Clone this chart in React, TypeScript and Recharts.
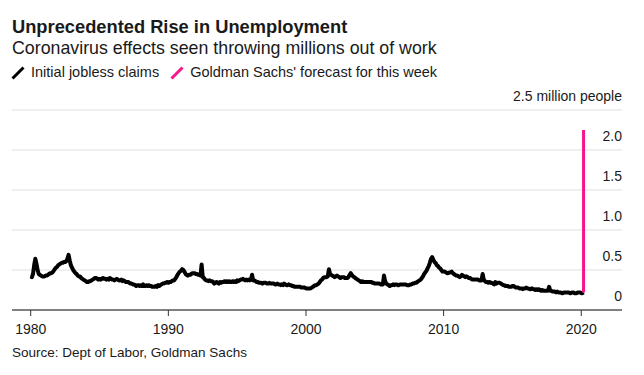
import { CartesianGrid, Line, LineChart, XAxis, YAxis } from "recharts";

// Initial jobless claims, monthly averages in millions of people, Jan..Dec per row
const claims1980s = [
  0.42, 0.41, 0.45, 0.56, 0.64, 0.58, 0.5, 0.45, 0.44, 0.43, 0.42, 0.42,
  0.42, 0.43, 0.43, 0.44, 0.45, 0.46, 0.46, 0.47, 0.49, 0.51, 0.53, 0.54,
  0.56, 0.57, 0.58, 0.59, 0.59, 0.6, 0.6, 0.61, 0.64, 0.69, 0.62, 0.56,
  0.53, 0.5, 0.48, 0.46, 0.45, 0.43, 0.42, 0.42, 0.4, 0.39, 0.38, 0.37,
  0.36, 0.35, 0.35, 0.36, 0.36, 0.37, 0.38, 0.39, 0.4, 0.4, 0.39, 0.38,
  0.39, 0.38, 0.39, 0.4, 0.39, 0.39, 0.38, 0.39, 0.38, 0.4, 0.39, 0.38,
  0.38, 0.37, 0.38, 0.39, 0.38, 0.37, 0.37, 0.38, 0.36, 0.37, 0.36, 0.35,
  0.35, 0.35, 0.34, 0.33, 0.33, 0.32, 0.32, 0.31, 0.3, 0.31, 0.31, 0.3,
  0.31, 0.3, 0.32, 0.3, 0.3, 0.31, 0.3, 0.31, 0.3, 0.3, 0.29, 0.29,
  0.29, 0.3, 0.29, 0.31, 0.3, 0.31, 0.32, 0.33, 0.33, 0.34, 0.34, 0.35,
];

const claims1990s = [
  0.34, 0.35, 0.35, 0.36, 0.37, 0.37, 0.39, 0.41, 0.44, 0.46, 0.48, 0.49,
  0.51, 0.5, 0.48, 0.45, 0.44, 0.43, 0.44, 0.44, 0.45, 0.46, 0.46, 0.46,
  0.45, 0.45, 0.44, 0.44, 0.43, 0.57, 0.41, 0.4, 0.38, 0.37, 0.37, 0.36,
  0.37, 0.36, 0.36, 0.35, 0.33, 0.34, 0.35, 0.34, 0.33, 0.35, 0.34, 0.35,
  0.35, 0.36, 0.35, 0.36, 0.35, 0.36, 0.35, 0.35, 0.36, 0.35, 0.36, 0.35,
  0.37, 0.36, 0.37, 0.38, 0.38, 0.39, 0.38, 0.37, 0.38, 0.37, 0.38, 0.37,
  0.38, 0.44, 0.37, 0.37, 0.36, 0.35, 0.35, 0.34, 0.34, 0.34, 0.33, 0.34,
  0.34, 0.34, 0.33, 0.33, 0.34, 0.33, 0.33, 0.33, 0.33, 0.32, 0.32, 0.33,
  0.32, 0.32, 0.31, 0.32, 0.31, 0.33, 0.32, 0.31, 0.31, 0.32, 0.31, 0.31,
  0.3, 0.3, 0.29, 0.29, 0.29, 0.29, 0.29, 0.29, 0.28, 0.28, 0.28, 0.28,
];

const claims2000s = [
  0.27, 0.27, 0.27, 0.27, 0.27, 0.28, 0.29, 0.3, 0.31, 0.31, 0.32, 0.33,
  0.35, 0.37, 0.38, 0.4, 0.41, 0.41, 0.41, 0.42, 0.51, 0.45, 0.44, 0.43,
  0.42, 0.41, 0.42, 0.43, 0.42, 0.41, 0.4, 0.41, 0.41, 0.41, 0.4, 0.4,
  0.4, 0.41, 0.44, 0.46, 0.44, 0.42, 0.41, 0.4, 0.39, 0.38, 0.37, 0.36,
  0.35, 0.36, 0.35, 0.35, 0.35, 0.35, 0.35, 0.35, 0.35, 0.35, 0.34, 0.34,
  0.33, 0.33, 0.33, 0.33, 0.33, 0.32, 0.32, 0.32, 0.43, 0.36, 0.33, 0.32,
  0.31, 0.3, 0.31, 0.31, 0.32, 0.31, 0.32, 0.32, 0.31, 0.31, 0.32, 0.32,
  0.32, 0.32, 0.32, 0.32, 0.31, 0.31, 0.31, 0.32, 0.32, 0.33, 0.33, 0.34,
  0.34, 0.35, 0.36, 0.37, 0.38, 0.4, 0.42, 0.45, 0.47, 0.49, 0.52, 0.55,
  0.59, 0.64, 0.66, 0.63, 0.6, 0.59, 0.56, 0.55, 0.53, 0.52, 0.5, 0.48,
];

const claims2010s = [
  0.48, 0.48, 0.47, 0.46, 0.46, 0.47, 0.47, 0.48, 0.46, 0.45, 0.44, 0.43,
  0.43, 0.42, 0.41, 0.42, 0.44, 0.43, 0.42, 0.41, 0.42, 0.41, 0.4, 0.4,
  0.39, 0.38, 0.38, 0.38, 0.38, 0.38, 0.38, 0.37, 0.37, 0.37, 0.45, 0.38,
  0.36, 0.35, 0.35, 0.34, 0.35, 0.34, 0.34, 0.33, 0.32, 0.35, 0.33, 0.34,
  0.34, 0.34, 0.33, 0.32, 0.31, 0.31, 0.3, 0.3, 0.3, 0.29, 0.29, 0.29,
  0.3, 0.3, 0.29, 0.28, 0.28, 0.28, 0.27, 0.27, 0.27, 0.26, 0.27, 0.27,
  0.28, 0.27, 0.27, 0.26, 0.26, 0.27, 0.26, 0.26, 0.25, 0.26, 0.25, 0.26,
  0.25, 0.24, 0.25, 0.24, 0.24, 0.24, 0.24, 0.24, 0.29, 0.24, 0.24, 0.23,
  0.23, 0.23, 0.22, 0.23, 0.22, 0.22, 0.22, 0.21, 0.21, 0.22, 0.22, 0.22,
  0.22, 0.22, 0.21, 0.21, 0.22, 0.22, 0.21, 0.21, 0.21, 0.22, 0.22, 0.22,
];

const claims2020 = [0.21, 0.21, 0.22];

// Goldman Sachs' estimate for the week, millions
const forecastValue = 2.25;

const yearTicks = [1980, 1990, 2000, 2010, 2020];
const valueTicks = [0, 0.5, 1, 1.5, 2, 2.5];

const monthly = [...claims1980s, ...claims1990s, ...claims2000s, ...claims2010s, ...claims2020];
const claimsData = monthly.map((v, i) => ({ x: 1980 + i / 12, y: v }));
const lastPoint = claimsData[claimsData.length - 1];
const forecastData = [
  { x: lastPoint.x, y: lastPoint.y },
  { x: lastPoint.x, y: forecastValue },
];

const FONT = '"Liberation Sans", Arial, Helvetica, sans-serif';
const INK = "#1a1a1a";
const MAGENTA = "#f5158c";

function ValueTick({ x, y, payload }: any) {
  const v = payload.value as number;
  const label = v === 2.5 ? "2.5 million people" : v === 0 ? "0" : v.toFixed(1);
  return (
    <text x={x} y={y - 9} textAnchor="end" fontSize={14} fill={INK} fontFamily={FONT}>
      {label}
    </text>
  );
}

function Swatch({ color }: { color: string }) {
  return (
    <svg width={14} height={14} style={{ marginRight: 6, flexShrink: 0 }}>
      <line x1={1.5} y1={12.5} x2={12.5} y2={1.5} stroke={color} strokeWidth={3} />
    </svg>
  );
}

export default function App() {
  return (
    <div
      style={{
        position: "absolute",
        left: 0,
        top: 0,
        width: 644,
        height: 375,
        background: "#fff",
        fontFamily: FONT,
        color: INK,
      }}
    >
      <div style={{ position: "absolute", left: 12, top: 17.8, fontSize: 18.3, lineHeight: 1, fontWeight: 700 }}>
        Unprecedented Rise in Unemployment
      </div>
      <div style={{ position: "absolute", left: 12, top: 40, fontSize: 17.8, lineHeight: 1 }}>
        Coronavirus effects seen throwing millions out of work
      </div>
      <div
        style={{
          position: "absolute",
          left: 11,
          top: 65.4,
          fontSize: 14.5,
          lineHeight: 1,
          display: "flex",
          alignItems: "center",
          whiteSpace: "nowrap",
        }}
      >
        <Swatch color="#000" />
        <span style={{ marginRight: 11 }}>Initial jobless claims</span>
        <Swatch color={MAGENTA} />
        <span>Goldman Sachs' forecast for this week</span>
      </div>

      <div style={{ position: "absolute", left: 0, top: 0 }}>
        <LineChart width={644} height={375} margin={{ top: 110, right: 21, left: 12, bottom: 35 }}>
          <CartesianGrid vertical={false} stroke="#e0e0e0" strokeWidth={1} />
          <XAxis
            type="number"
            dataKey="x"
            domain={[1978.64, 2022.96]}
            allowDataOverflow
            ticks={yearTicks}
            interval={0}
            height={30}
            tickSize={6}
            tickMargin={8}
            tickLine={{ stroke: "#333" }}
            axisLine={{ stroke: "#808080", strokeWidth: 2 }}
            tick={{ fontSize: 14, fill: INK, fontFamily: FONT }}
          />
          <YAxis
            orientation="right"
            width={1}
            domain={[0, 2.5]}
            ticks={valueTicks}
            interval={0}
            tickSize={0}
            tickMargin={0}
            axisLine={false}
            tickLine={false}
            tick={<ValueTick />}
          />
          <Line
            data={claimsData}
            dataKey="y"
            stroke="#000"
            strokeWidth={4}
            strokeLinejoin="round"
            dot={false}
            isAnimationActive={false}
          />
          <Line
            data={forecastData}
            dataKey="y"
            stroke={MAGENTA}
            strokeWidth={3}
            dot={false}
            isAnimationActive={false}
          />
        </LineChart>
      </div>

      <div style={{ position: "absolute", left: 12, top: 346.3, fontSize: 13.5, lineHeight: 1 }}>
        Source: Dept of Labor, Goldman Sachs
      </div>
    </div>
  );
}
